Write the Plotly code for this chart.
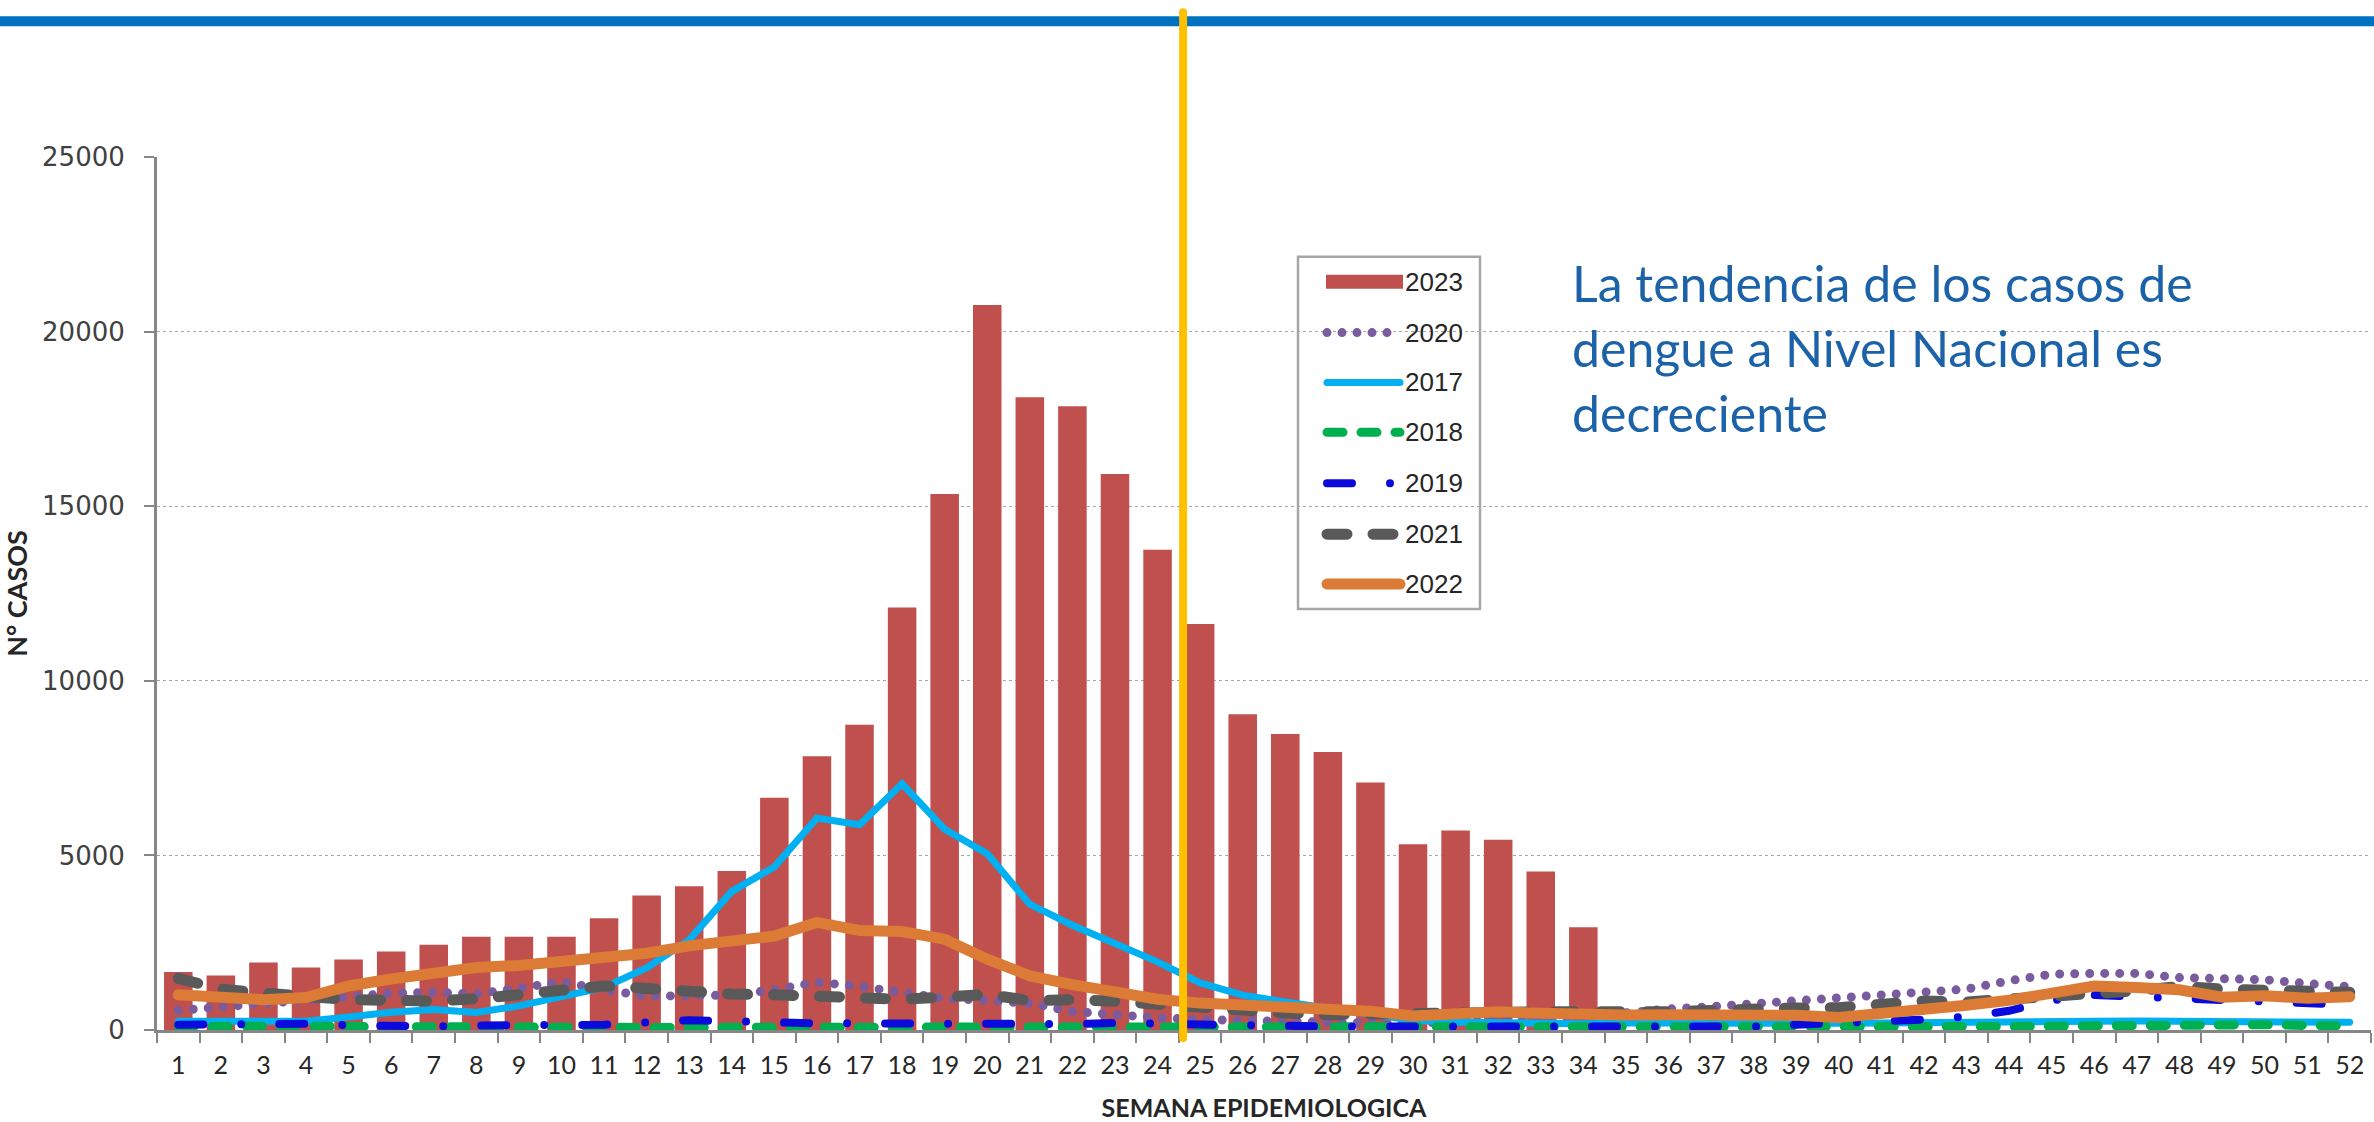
import plotly.graph_objects as go

weeks = list(range(1, 53))
week_labels = [str(w) for w in weeks]

cases_2023 = [1660, 1560, 1930, 1790, 2020, 2250, 2440, 2670, 2670, 2670,
              3200, 3850, 4120, 4550, 6650, 7840, 8740, 12100, 15350, 20760,
              18120, 17860, 15920, 13750, 11630, 9040, 8480, 7960, 7090, 5320,
              5710, 5450, 4540, 2940]

cases_2020 = [560, 660, 800, 900, 1000, 1050, 1080, 1030, 1200, 1380,
              1150, 970, 980, 1000, 1150, 1370, 1250, 1080, 900, 850,
              760, 530, 430, 350, 300, 260, 240, 200, 200, 200,
              220, 250, 300, 380, 500, 600, 670, 750, 830, 880,
              970, 1070, 1170, 1410, 1600, 1620, 1620, 1500, 1470, 1440,
              1330, 1240]

cases_2017 = [250, 250, 250, 250, 370, 510, 590, 500, 690, 940,
              1220, 1780, 2580, 3970, 4670, 6070, 5880, 7050, 5750, 5050,
              3600, 3000, 2500, 1950, 1350, 1000, 800, 620, 450, 280,
              220, 200, 190, 180, 200, 190, 190, 180, 180, 190,
              200, 200, 210, 220, 230, 250, 260, 260, 250, 240,
              230, 220]

cases_2018 = [100, 120, 120, 110, 100, 90, 80, 80, 80, 70,
              60, 60, 70, 80, 80, 70, 60, 60, 70, 60,
              60, 50, 50, 50, 40, 40, 40, 40, 40, 40,
              50, 50, 60, 60, 60, 60, 60, 70, 70, 80,
              80, 90, 90, 100, 110, 120, 140, 170, 170, 150,
              130, 120]

cases_2019 = [150, 170, 170, 180, 140, 100, 100, 130, 120, 130,
              150, 220, 280, 250, 200, 190, 190, 180, 170, 170,
              170, 170, 200, 180, 120, 140, 130, 100, 100, 100,
              100, 80, 70, 60, 80, 100, 100, 100, 150, 220,
              250, 300, 380, 550, 850, 1000, 950, 880, 820, 780,
              740, 720]

cases_2021 = [1480, 1170, 1060, 950, 870, 850, 830, 890, 1020, 1170,
              1260, 1190, 1090, 1030, 1010, 980, 930, 880, 940, 1020,
              840, 870, 820, 720, 640, 560, 490, 440, 440, 450,
              480, 500, 520, 500, 480, 520, 560, 620, 630, 640,
              720, 830, 800, 860, 950, 1050, 1120, 1250, 1170, 1160,
              1080, 1080]

cases_2022 = [1010, 965, 870, 930, 1260, 1460, 1630, 1790, 1850, 1960,
              2100, 2200, 2410, 2560, 2690, 3080, 2850, 2820, 2600, 2030,
              1550, 1300, 1080, 880, 770, 720, 650, 600, 540, 400,
              470, 520, 480, 440, 430, 440, 440, 440, 420, 360,
              460, 600, 710, 850, 1030, 1260, 1220, 1150, 940, 980,
              910, 950]

line_series = [
    ("2020", cases_2020, "#7A5C9E", 9, "0px,15px"),
    ("2017", cases_2017, "#00B0F0", 7, "solid"),
    ("2018", cases_2018, "#00B050", 9, "16px,18px"),
    ("2019", cases_2019, "#0A0ADC", 8, "25px,38px,0px,38px"),
    ("2021", cases_2021, "#595959", 11, "20px,26px"),
    ("2022", cases_2022, "#DC7B35", 11, "solid"),
]

fig = go.Figure()
fig.add_trace(go.Bar(x=week_labels[:len(cases_2023)], y=cases_2023, name="2023",
                     marker=dict(color="#C0504D", line=dict(width=0)),
                     showlegend=False))
for name, vals, color, width, dash in line_series:
    fig.add_trace(go.Scatter(x=week_labels, y=vals, name=name, mode="lines",
                             line=dict(color=color, width=width, dash=dash),
                             showlegend=False))

# plot area pixel geometry: left 157, right 2371, top 157, bottom 1032
L, R, T, B = 157, 2371, 157, 1032
def px(x):
    return (x - L) / (R - L)
def py(y):
    return (B - y) / (B - T)

shapes = []
# top blue band
shapes.append(dict(type="line", xref="paper", yref="paper", x0=px(-10), x1=px(2390),
                   y0=py(21), y1=py(21), line=dict(color="#0070C0", width=10), layer="above"))
# yellow vertical marker
shapes.append(dict(type="line", xref="x", yref="paper", x0=23.6, x1=23.6,
                   y0=py(1040), y1=py(12), line=dict(color="#FFC000", width=8), layer="above"))

# custom legend
box_l, box_r, box_t, box_b = 1298, 1480, 257, 610
shapes.append(dict(type="rect", xref="paper", yref="paper", x0=px(box_l), x1=px(box_r),
                   y0=py(box_b), y1=py(box_t), line=dict(color="#A6A6A6", width=2.5),
                   fillcolor="rgba(0,0,0,0)", layer="above"))
legend_rows = [282, 333, 383, 433, 484, 535, 585]
annotations = []
legend_font = dict(family="Liberation Sans", size=26, color="#262626")
shapes.append(dict(type="rect", xref="paper", yref="paper", x0=px(1326), x1=px(1403),
                   y0=py(legend_rows[0] + 7), y1=py(legend_rows[0] - 7),
                   line=dict(width=0), fillcolor="#C0504D", layer="above"))
annotations.append(dict(xref="paper", yref="paper", x=px(1403), y=py(legend_rows[0]),
                        text="2023", showarrow=False, xanchor="left", yanchor="middle",
                        font=legend_font))
for (name, vals, color, width, dash), yrow in zip(line_series, legend_rows[1:]):
    shapes.append(dict(type="line", xref="paper", yref="paper",
                       x0=px(1327), x1=px(1400), y0=py(yrow), y1=py(yrow),
                       line=dict(color=color, width=width, dash=dash), layer="above"))
    annotations.append(dict(xref="paper", yref="paper", x=px(1403), y=py(yrow),
                            text=name, showarrow=False, xanchor="left", yanchor="middle",
                            font=legend_font))

annotations.append(dict(xref="paper", yref="paper", x=px(1570), y=py(251),
                        xanchor="left", yanchor="top", align="left", showarrow=False,
                        text="La tendencia de los casos de<br>dengue a Nivel Nacional es<br>decreciente",
                        font=dict(family="Lato", size=50, color="#1C62A8")))

fig.update_layout(
    width=2374, height=1122,
    margin=dict(l=L, r=2374 - R, t=T, b=1122 - B),
    paper_bgcolor="white", plot_bgcolor="white",
    bargap=0.33, showlegend=False,
    shapes=shapes, annotations=annotations,
    xaxis=dict(type="category", range=[-0.5, 51.5], tickson="boundaries",
               ticks="outside", ticklen=10, tickwidth=2, tickcolor="#868686",
               showline=True, linecolor="#868686", linewidth=3, showgrid=False,
               tickfont=dict(family="Lato", size=25, color="#262626"),
               ticklabelstandoff=11,
               title=dict(text="<b>SEMANA EPIDEMIOLOGICA</b>", standoff=22,
                          font=dict(family="Lato", size=25, color="#262626"))),
    yaxis=dict(range=[0, 25000], dtick=5000, tickformat="d",
               ticks="outside", ticklen=10, tickwidth=2, tickcolor="#868686",
               showline=True, linecolor="#868686", linewidth=3,
               showgrid=True, gridcolor="#A6A6A6", gridwidth=1, griddash="dot",
               zeroline=False,
               tickfont=dict(family="DejaVu Sans", size=26, color="#404040"),
               ticklabelstandoff=14,
               title=dict(text="<b>N° CASOS</b>", standoff=12,
                          font=dict(family="Lato", size=27, color="#262626"))),
)

css_js = (
    "document.body.style.margin='0';"
    "var s=document.createElement('style');"
    "s.textContent='body{margin:0 !important;} .scatterlayer path.js-line, .shapelayer path {stroke-linecap: round !important;}';"
    "document.head.appendChild(s);"
)
fig.write_html("out.html", post_script=css_js, config={"displayModeBar": False})
